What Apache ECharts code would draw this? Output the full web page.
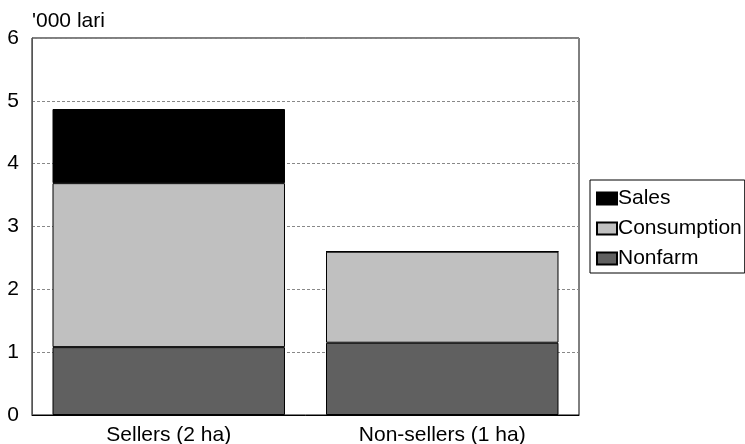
<!DOCTYPE html>
<html>
<head>
<meta charset="utf-8">
<script src="https://cdn.jsdelivr.net/npm/echarts@6/dist/echarts.min.js"></script>
<style>
  html, body { margin: 0; padding: 0; background: #fff; }
  #chart { width: 745px; height: 444px; }
</style>
</head>
<body>
<div id="chart"></div>
<script>
// Household income by source, '000 lari
var categories = ['Sellers (2 ha)', 'Non-sellers (1 ha)'];
var nonfarm = [1.08, 1.15];
var consumption = [2.61, 1.45];
var sales = [1.18, 0];
var yTicks = [0, 1, 2, 3, 4, 5, 6];

var FONT = 'Liberation Sans, Arial, sans-serif';
var FS = 21;

function barSeries(name, values, color) {
  return {
    name: name,
    type: 'bar',
    stack: 'total',
    data: values,
    barWidth: '85%',
    itemStyle: { color: color, borderColor: '#000', borderWidth: 1 },
    emphasis: { disabled: true }
  };
}

var chart = echarts.init(document.getElementById('chart'));
chart.setOption({
  animation: false,
  backgroundColor: '#fff',
  textStyle: { fontFamily: FONT },
  title: {
    text: "'000 lari",
    left: 32,
    top: 11,
    padding: 0,
    textStyle: { fontFamily: FONT, fontSize: FS, fontWeight: 'normal', color: '#000' }
  },
  legend: {
    orient: 'vertical',
    left: 590,
    top: 180,
    data: ['Sales', 'Consumption', 'Nonfarm'],
    icon: 'rect',
    itemWidth: 20,
    itemHeight: 12,
    itemGap: 9,
    padding: [8, 3, 4, 6],
    borderColor: '#000',
    borderWidth: 1,
    borderRadius: 0,
    textStyle: { fontFamily: FONT, fontSize: FS, color: '#000', padding: [0, 0, 0, -4] }
  },
  grid: {
    left: 32,
    right: 166,
    top: 38,
    bottom: 29,
    show: true,
    borderColor: '#000',
    borderWidth: 1,
    containLabel: false,
    outerBoundsMode: 'none'
  },
  xAxis: {
    type: 'category',
    data: categories,
    axisLine: { lineStyle: { color: '#000' } },
    axisTick: { show: false },
    axisLabel: { fontFamily: FONT, fontSize: FS, color: '#000', margin: 10 }
  },
  yAxis: {
    type: 'value',
    min: yTicks[0],
    max: yTicks[yTicks.length - 1],
    interval: 1,
    axisLine: { show: true, lineStyle: { color: '#555' } },
    axisTick: { show: false },
    axisLabel: { fontFamily: FONT, fontSize: FS, color: '#000', margin: 13 },
    splitLine: { lineStyle: { color: '#888', type: [3, 2], width: 1 } }
  },
  series: [
    barSeries('Nonfarm', nonfarm, '#606060'),
    barSeries('Consumption', consumption, '#c0c0c0'),
    barSeries('Sales', sales, '#000000')
  ]
});
</script>
</body>
</html>
